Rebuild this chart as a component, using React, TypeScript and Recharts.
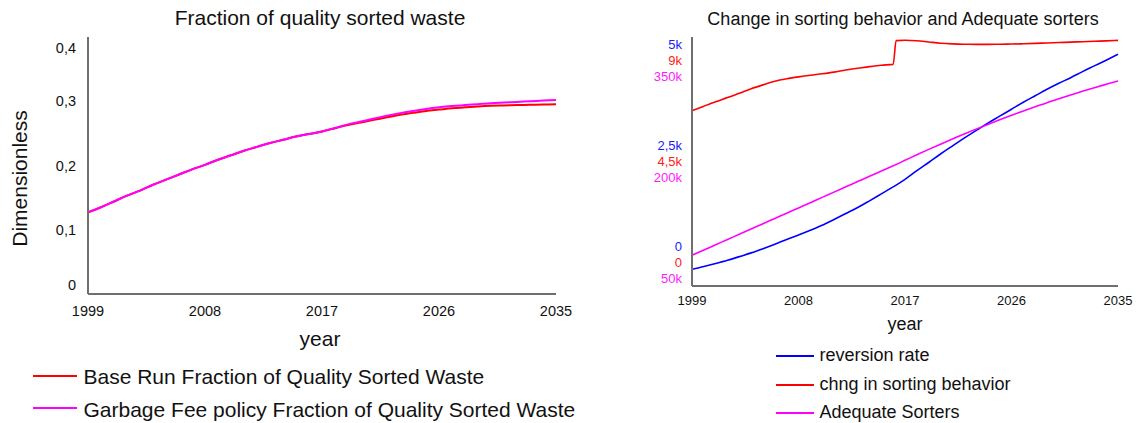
import { LineChart, Line, XAxis, YAxis } from 'recharts';

const FONT = '"Liberation Sans", Arial, sans-serif';

// left chart: fraction of quality sorted waste
const YEARS = [
  1999, 2000, 2001, 2002, 2003, 2004, 2005, 2006, 2007, 2008, 2009, 2010, 2011,
  2012, 2013, 2014, 2015, 2016, 2017, 2018, 2019, 2020, 2021, 2022, 2023, 2024,
  2025, 2026, 2027, 2028, 2029, 2030, 2031, 2032, 2033, 2034, 2035,
];
const BASE_RUN = [
  0.127, 0.135, 0.144, 0.153, 0.161, 0.17, 0.178, 0.186, 0.194, 0.201, 0.209,
  0.216, 0.223, 0.229, 0.235, 0.24, 0.245, 0.249, 0.253, 0.258, 0.263, 0.267,
  0.271, 0.275, 0.279, 0.282, 0.285, 0.287, 0.289, 0.2905, 0.292, 0.293, 0.2935,
  0.294, 0.2945, 0.295, 0.2953,
];
const GARBAGE_FEE = [
  0.127, 0.135, 0.144, 0.153, 0.161, 0.17, 0.178, 0.186, 0.194, 0.201, 0.209,
  0.216, 0.223, 0.229, 0.235, 0.24, 0.245, 0.249, 0.253, 0.2585, 0.264, 0.2685,
  0.273, 0.2775, 0.2815, 0.285, 0.288, 0.2905, 0.2925, 0.294, 0.2955, 0.297,
  0.298, 0.299, 0.3, 0.301, 0.302,
];
const FRACTION_TICKS = [0, 0.1, 0.2, 0.3, 0.4];
const YEAR_TICKS = [1999, 2008, 2017, 2026, 2035];

// right chart: change in sorting behavior and adequate sorters
const YEARS_R = [
  1999, 2000, 2001, 2002, 2003, 2004, 2005, 2006, 2007, 2008, 2009, 2010, 2011,
  2012, 2013, 2014, 2015, 2016, 2016.25, 2017, 2018, 2019, 2020, 2021, 2022,
  2023, 2024, 2025, 2026, 2027, 2028, 2029, 2030, 2031, 2032, 2033, 2034, 2035,
];
const REVERSION_RATE = [
  335, 390, 450, 515, 590, 665, 750, 840, 935, 1025, 1120, 1220, 1335, 1455,
  1575, 1710, 1850, 1990, 2025, 2140, 2315, 2480, 2650, 2810, 2970, 3120, 3270,
  3410, 3550, 3690, 3820, 3950, 4070, 4183, 4305, 4420, 4535, 4653,
];
const CHNG_SORTING = [
  6336, 6500, 6660, 6810, 6970, 7130, 7270, 7400, 7490, 7560, 7620, 7670, 7730,
  7810, 7870, 7930, 7980, 8010, 8870, 8880, 8865, 8820, 8775, 8750, 8738, 8735,
  8735, 8740, 8745, 8755, 8770, 8785, 8800, 8815, 8830, 8845, 8860, 8879,
];
const ADEQUATE_SORTERS = [
  87000, 93300, 99700, 106000, 112400, 118700, 125000, 131400, 137700, 144100,
  150400, 156800, 163100, 169500, 175800, 182200, 188500, 194800, 196400,
  201400, 208100, 214600, 220900, 227100, 233100, 239000, 244700, 250200,
  255600, 260800, 265900, 270900, 275600, 280200, 284600, 288900, 293000,
  297000,
];
const REVERSION_TICKS = [0, 2500, 5000];
const CHNG_TICKS = [0, 4500, 9000];
const ADEQUATE_TICKS = [50000, 200000, 350000];

const leftRows = YEARS.map((year, i) => ({
  year,
  base: BASE_RUN[i],
  fee: GARBAGE_FEE[i],
}));

const rightRows = YEARS_R.map((year, i) => ({
  year,
  reversion: REVERSION_RATE[i],
  chng: CHNG_SORTING[i],
  adequate: ADEQUATE_SORTERS[i],
}));

const AXIS = { stroke: '#6f6f6f', strokeWidth: 2 };

const comma = (v: number) => String(v).replace('.', ',');
const kLabel = (v: number) => (v === 0 ? '0' : comma(v / 1000) + 'k');

function XTick(props: any) {
  const { x, payload, cy, size } = props;
  return (
    <text x={x} y={cy} dy="0.35em" textAnchor="middle" fontSize={size} fill="#111" fontFamily={FONT}>
      {payload.value}
    </text>
  );
}

function FractionTick(props: any) {
  const { y, payload } = props;
  const cy = Math.min(Math.max(y, 48), 285);
  return (
    <text x={76} y={cy} dy="0.35em" textAnchor="end" fontSize={14.5} fill="#111" fontFamily={FONT}>
      {comma(payload.value)}
    </text>
  );
}

// vensim-style stacked scale labels: three groups (top / middle / bottom)
function StackTick(props: any) {
  const { y, payload, color, shift } = props;
  const cy = Math.min(Math.max(y, 60), 262) + shift;
  return (
    <text x={62} y={cy} dy="0.35em" textAnchor="end" fontSize={13} fill={color} fontFamily={FONT}>
      {kLabel(payload.value)}
    </text>
  );
}

function Caption(props: any) {
  const { x, baseline, size, center, children } = props;
  return (
    <div
      style={{
        position: 'absolute',
        left: x,
        top: baseline - 0.8465 * size,
        fontSize: size,
        lineHeight: `${size}px`,
        whiteSpace: 'nowrap',
        transform: center ? 'translateX(-50%)' : undefined,
      }}
    >
      {children}
    </div>
  );
}

function LegendRow(props: any) {
  const { x1, x2, lineY, textX, baseline, size, color, children } = props;
  return (
    <>
      <div
        style={{
          position: 'absolute',
          left: x1,
          top: lineY - 1,
          width: x2 - x1,
          height: 2,
          background: color,
        }}
      />
      <Caption x={textX} baseline={baseline} size={size}>
        {children}
      </Caption>
    </>
  );
}

export default function App() {
  return (
    <div
      style={{
        position: 'absolute',
        left: 0,
        top: 0,
        width: 1137,
        height: 423,
        background: '#fff',
        color: '#111',
        fontFamily: FONT,
        overflow: 'hidden',
      }}
    >
      <div style={{ position: 'absolute', left: 0, top: 0 }}>
        <LineChart width={600} height={423} data={leftRows} margin={{ top: 37, right: 44, left: 0, bottom: 99 }}>
          <XAxis
            dataKey="year"
            type="number"
            domain={[1999, 2035]}
            ticks={YEAR_TICKS}
            interval={0}
            height={30}
            tickLine={false}
            axisLine={AXIS}
            tick={(p: any) => <XTick {...p} cy={311} size={14.5} />}
            label={(p: any) => (
              <text
                x={p.viewBox.x + p.viewBox.width / 2 - 2}
                y={p.viewBox.y + 52}
                textAnchor="middle"
                fontSize={21}
                fill="#111"
                fontFamily={FONT}
              >
                year
              </text>
            )}
          />
          <YAxis
            type="number"
            domain={[0, 0.4]}
            ticks={FRACTION_TICKS}
            interval={0}
            width={88}
            tickLine={false}
            axisLine={AXIS}
            tick={(p: any) => <FractionTick {...p} />}
            label={(p: any) => (
              <text
                transform={`translate(19.5, ${p.viewBox.y + p.viewBox.height / 2 + 13}) rotate(-90)`}
                dy="0.35em"
                textAnchor="middle"
                fontSize={21}
                fill="#111"
                fontFamily={FONT}
              >
                Dimensionless
              </text>
            )}
          />
          <Line dataKey="base" type="monotone" stroke="#ff0000" strokeWidth={2} dot={false} isAnimationActive={false} />
          <Line dataKey="fee" type="monotone" stroke="#ff00ff" strokeWidth={2} dot={false} isAnimationActive={false} />
        </LineChart>
      </div>

      <div style={{ position: 'absolute', left: 620, top: 0 }}>
        <LineChart width={517} height={423} data={rightRows} margin={{ top: 37, right: 19, left: 0, bottom: 107 }}>
          <XAxis
            dataKey="year"
            type="number"
            domain={[1999, 2035]}
            ticks={YEAR_TICKS}
            interval={0}
            height={30}
            tickLine={false}
            axisLine={AXIS}
            tick={(p: any) => <XTick {...p} cy={300} size={13} />}
            label={(p: any) => (
              <text
                x={p.viewBox.x + p.viewBox.width / 2}
                y={p.viewBox.y + 43.5}
                textAnchor="middle"
                fontSize={18}
                fill="#111"
                fontFamily={FONT}
              >
                year
              </text>
            )}
          />
          {/* the first declared left axis sits outermost, the last one touches the plot */}
          <YAxis
            yAxisId="reversion"
            domain={[0, 5000]}
            ticks={REVERSION_TICKS}
            interval={0}
            width={24}
            tickLine={false}
            axisLine={false}
            tick={(p: any) => <StackTick {...p} color="#1a1aff" shift={-16} />}
          />
          <YAxis
            yAxisId="chng"
            domain={[0, 9000]}
            ticks={CHNG_TICKS}
            interval={0}
            width={24}
            tickLine={false}
            axisLine={false}
            tick={(p: any) => <StackTick {...p} color="#ff1a1a" shift={0} />}
          />
          <YAxis
            yAxisId="adequate"
            domain={[50000, 350000]}
            ticks={ADEQUATE_TICKS}
            interval={0}
            width={24}
            tickLine={false}
            axisLine={AXIS}
            tick={(p: any) => <StackTick {...p} color="#ff1aff" shift={16} />}
          />
          <Line yAxisId="reversion" dataKey="reversion" type="monotone" stroke="#0000ff" strokeWidth={1.6} dot={false} isAnimationActive={false} />
          <Line yAxisId="chng" dataKey="chng" type="monotone" stroke="#ff0000" strokeWidth={1.6} dot={false} isAnimationActive={false} />
          <Line yAxisId="adequate" dataKey="adequate" type="monotone" stroke="#ff00ff" strokeWidth={1.6} dot={false} isAnimationActive={false} />
        </LineChart>
      </div>

      <Caption x={320} baseline={25} size={21} center>
        Fraction of quality sorted waste
      </Caption>
      <Caption x={903} baseline={25.6} size={18} center>
        Change in sorting behavior and Adequate sorters
      </Caption>

      <LegendRow x1={33} x2={77} lineY={376} textX={83.5} baseline={383.3} size={21} color="#ff0000">
        Base Run Fraction of Quality Sorted Waste
      </LegendRow>
      <LegendRow x1={33} x2={77} lineY={408.3} textX={83.5} baseline={416.7} size={21} color="#ff00ff">
        Garbage Fee policy Fraction of Quality Sorted Waste
      </LegendRow>

      <LegendRow x1={776} x2={814} lineY={356} textX={819.5} baseline={361.5} size={18} color="#0000ff">
        reversion rate
      </LegendRow>
      <LegendRow x1={776} x2={814} lineY={385} textX={819.5} baseline={390} size={18} color="#ff0000">
        chng in sorting behavior
      </LegendRow>
      <LegendRow x1={776} x2={814} lineY={413.3} textX={819.5} baseline={418.7} size={18} color="#ff00ff">
        Adequate Sorters
      </LegendRow>
    </div>
  );
}
